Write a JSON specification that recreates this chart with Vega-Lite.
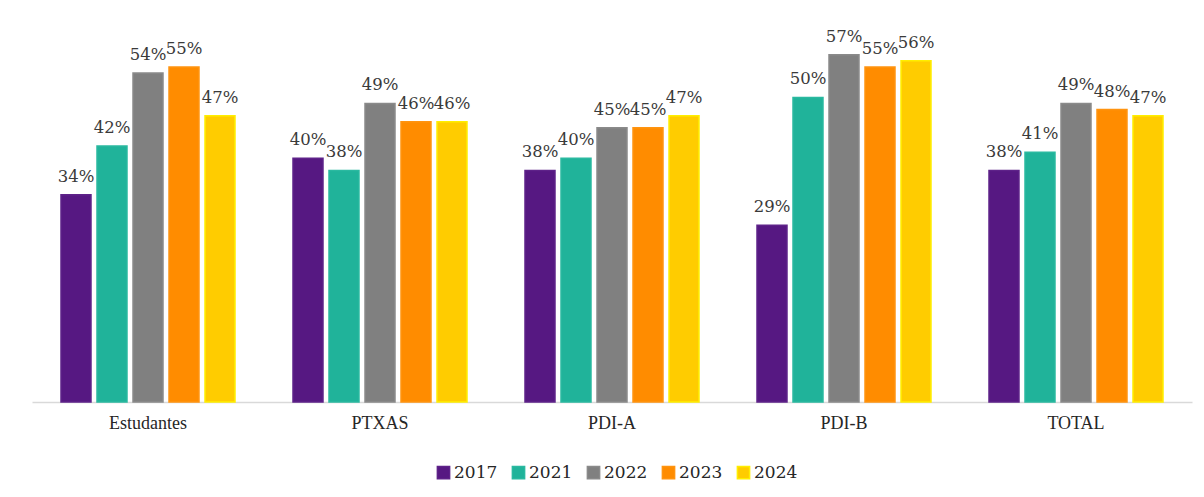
{
  "$schema": "https://vega.github.io/schema/vega-lite/v6.json",
  "width": 1160,
  "height": 396,
  "padding": {"left": 32, "top": 6, "right": 12, "bottom": 0},
  "background": "white",
  "config": {
    "view": {"stroke": null},
    "font": "Liberation Serif"
  },
  "data": {
    "values": [
      {"Grupo": "Estudantes", "Year": "2017", "Valor": 0.34},
      {"Grupo": "Estudantes", "Year": "2021", "Valor": 0.42},
      {"Grupo": "Estudantes", "Year": "2022", "Valor": 0.54},
      {"Grupo": "Estudantes", "Year": "2023", "Valor": 0.55},
      {"Grupo": "Estudantes", "Year": "2024", "Valor": 0.47},
      {"Grupo": "PTXAS", "Year": "2017", "Valor": 0.40},
      {"Grupo": "PTXAS", "Year": "2021", "Valor": 0.38},
      {"Grupo": "PTXAS", "Year": "2022", "Valor": 0.49},
      {"Grupo": "PTXAS", "Year": "2023", "Valor": 0.46},
      {"Grupo": "PTXAS", "Year": "2024", "Valor": 0.46},
      {"Grupo": "PDI-A", "Year": "2017", "Valor": 0.38},
      {"Grupo": "PDI-A", "Year": "2021", "Valor": 0.40},
      {"Grupo": "PDI-A", "Year": "2022", "Valor": 0.45},
      {"Grupo": "PDI-A", "Year": "2023", "Valor": 0.45},
      {"Grupo": "PDI-A", "Year": "2024", "Valor": 0.47},
      {"Grupo": "PDI-B", "Year": "2017", "Valor": 0.29},
      {"Grupo": "PDI-B", "Year": "2021", "Valor": 0.50},
      {"Grupo": "PDI-B", "Year": "2022", "Valor": 0.57},
      {"Grupo": "PDI-B", "Year": "2023", "Valor": 0.55},
      {"Grupo": "PDI-B", "Year": "2024", "Valor": 0.56},
      {"Grupo": "TOTAL", "Year": "2017", "Valor": 0.38},
      {"Grupo": "TOTAL", "Year": "2021", "Valor": 0.41},
      {"Grupo": "TOTAL", "Year": "2022", "Valor": 0.49},
      {"Grupo": "TOTAL", "Year": "2023", "Valor": 0.48},
      {"Grupo": "TOTAL", "Year": "2024", "Valor": 0.47}
    ]
  },
  "encoding": {
    "x": {
      "field": "Grupo",
      "type": "nominal",
      "sort": ["Estudantes", "PTXAS", "PDI-A", "PDI-B", "TOTAL"],
      "scale": {"paddingInner": 0.25, "paddingOuter": 0.125},
      "axis": {
        "title": null,
        "labelAngle": 0,
        "labelFont": "Liberation Serif",
        "labelFontSize": 18,
        "labelColor": "#262626",
        "labelPadding": 12,
        "ticks": false,
        "domainColor": "#d9d9d9",
        "domainWidth": 1.5
      }
    },
    "xOffset": {
      "field": "Year",
      "type": "nominal",
      "sort": ["2017", "2021", "2022", "2023", "2024"],
      "scale": {"paddingInner": 0.167}
    },
    "y": {
      "field": "Valor",
      "type": "quantitative",
      "scale": {"domain": [0, 0.65], "nice": false},
      "axis": null
    }
  },
  "layer": [
    {
      "mark": {"type": "bar", "strokeWidth": 1.5},
      "encoding": {
        "color": {
          "field": "Year",
          "type": "nominal",
          "scale": {
            "domain": ["2017", "2021", "2022", "2023", "2024"],
            "range": ["#561882", "#20B39A", "#808080", "#FF8C00", "#FFCC00"]
          },
          "legend": {
            "title": null,
            "orient": "none",
            "legendX": 403,
            "legendY": 458,
            "direction": "horizontal",
            "symbolType": "square",
            "symbolSize": 150,
            "symbolOpacity": 1,
            "labelFont": "DejaVu Serif",
            "labelFontSize": 17,
            "labelColor": "#262626",
            "columnPadding": 11,
            "labelOffset": 2
          }
        },
        "stroke": {
          "field": "Year",
          "type": "nominal",
          "scale": {
            "domain": ["2017", "2021", "2022", "2023", "2024"],
            "range": ["#5e2289", "#2ab9a0", "#8a8a8a", "#ff9410", "#FFEE00"]
          },
          "legend": {
            "title": null,
            "orient": "none",
            "legendX": 403,
            "legendY": 458,
            "direction": "horizontal",
            "symbolType": "square",
            "symbolSize": 150,
            "labelFont": "DejaVu Serif",
            "labelFontSize": 17,
            "labelColor": "#262626",
            "columnPadding": 11,
            "labelOffset": 2
          }
        }
      }
    },
    {
      "mark": {"type": "text", "baseline": "bottom", "dy": -10, "font": "DejaVu Serif", "fontSize": 16.5, "color": "#3a3a3a"},
      "encoding": {
        "text": {"field": "Valor", "type": "quantitative", "format": ".0%"},
        "detail": {"field": "Year"}
      }
    }
  ]
}
